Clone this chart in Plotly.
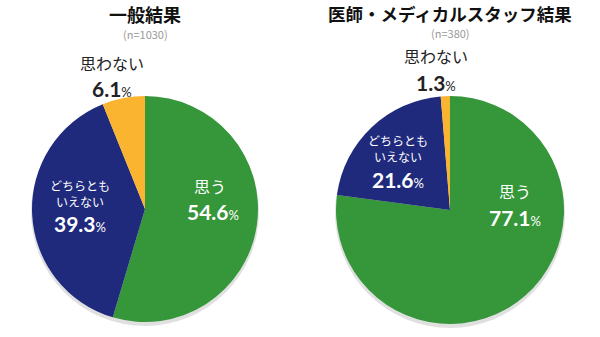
import plotly.graph_objects as go

categories = ["思う", "どちらともいえない", "思わない"]
general_values = [54.6, 39.3, 6.1]
medical_values = [77.1, 21.6, 1.3]
titles = ["一般結果", "医師・メディカルスタッフ結果"]
sample_sizes = ["(n=1030)", "(n=380)"]
colors = ["#35963a", "#1f2a7c", "#fbb42f"]

W, H = 600, 337
FONT = "Noto Sans CJK JP"
NUMFONT = "Lato"

fig = go.Figure()

def px_domain(cx, cy, r):
    return dict(x=[(cx - r) / W, (cx + r) / W], y=[(H - cy - r) / H, (H - cy + r) / H])

pies = [(145, 209, 113, general_values), (450, 210, 114, medical_values)]
# soft shadow beneath each pie
for cx, cy, r, vals in pies:
    fig.add_trace(go.Pie(
        values=[1], sort=False, marker=dict(colors=["rgba(0,0,0,0.12)"], line=dict(width=0)),
        textinfo="none", hoverinfo="skip", showlegend=False,
        domain=px_domain(cx, cy + 3, r + 1),
    ))
for cx, cy, r, vals in pies:
    fig.add_trace(go.Pie(
        labels=categories, values=vals, sort=False, direction="clockwise",
        rotation=0, marker=dict(colors=colors, line=dict(width=0)),
        textinfo="none", hoverinfo="label+percent", showlegend=False,
        domain=px_domain(cx, cy, r),
    ))

def pct(v, color):
    return (f"<b><span style='font-family:{NUMFONT};font-size:21px;color:{color}'>{v}</span></b>"
            f"<span style='font-family:{NUMFONT};font-size:13px;color:{color}'>%</span>")

ann = []
def add(x, y, text, size=13, color="#222", bold=False):
    t = f"<b>{text}</b>" if bold else text
    ann.append(dict(x=x / W, y=1 - y / H, xref="paper", yref="paper", text=t,
                    showarrow=False, xanchor="center", yanchor="middle",
                    font=dict(family=FONT, size=size, color=color)))

# titles
add(145, 14, titles[0], size=18, color="#111", bold=True)
add(145, 34, sample_sizes[0], size=11, color="#9a9a9a")
add(450, 14, titles[1], size=17.5, color="#111", bold=True)
add(450, 33, sample_sizes[1], size=11, color="#9a9a9a")

# left pie labels
add(112, 63, "思わない", size=16, color="#222")
add(112, 88, pct(general_values[2], "#222"))
add(80, 185, "どちらとも", size=12, color="#fff")
add(80, 201, "いえない", size=12, color="#fff")
add(80, 223, pct(general_values[1], "#fff"))
add(210, 186, "思う", size=16, color="#fff")
add(213, 211, pct(general_values[0], "#fff"))

# right pie labels
add(436, 56, "思わない", size=16, color="#222")
add(436, 83, pct(medical_values[2], "#222"))
add(398, 140, "どちらとも", size=12, color="#fff")
add(398, 156, "いえない", size=12, color="#fff")
add(398, 179, pct(medical_values[1], "#fff"))
add(515, 191, "思う", size=16, color="#fff")
add(515, 217, pct(medical_values[0], "#fff"))

fig.update_layout(
    width=W, height=H, margin=dict(l=0, r=0, t=0, b=0),
    paper_bgcolor="white", plot_bgcolor="white",
    annotations=ann, font=dict(family=FONT),
)

fig.write_html("out.html")
